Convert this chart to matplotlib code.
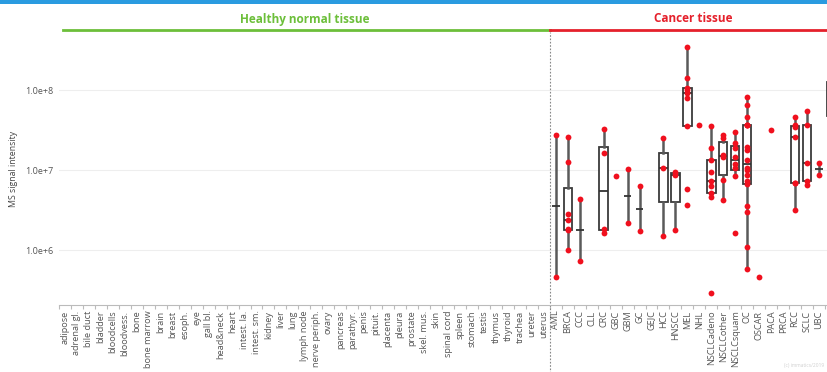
import matplotlib
matplotlib.use('Agg')
import matplotlib.pyplot as plt
import matplotlib.transforms as mtransforms
from matplotlib import cbook
from matplotlib.patches import Rectangle
from matplotlib.ticker import NullLocator
import numpy as np

plt.rcParams['font.family'] = ['Open Sans', 'DejaVu Sans']

# categories (x axis)
healthy = ["adipose", "adrenal gl.", "bile duct", "bladder", "bloodcells", "bloodvess.",
           "bone", "bone marrow", "brain", "breast", "esoph.", "eye", "gall bl.",
           "head&neck", "heart", "intest. la.", "intest. sm.", "kidney", "liver", "lung",
           "lymph node", "nerve periph.", "ovary", "pancreas", "parathyr.", "penis",
           "pituit.", "placenta", "pleura", "prostate", "skel. mus.", "skin",
           "spinal cord", "spleen", "stomach", "testis", "thymus", "thyroid", "trachea",
           "ureter", "uterus"]
cancer = ["AML", "BRCA", "CCC", "CLL", "CRC", "GBC", "GBM", "GC", "GEJC", "HCC", "HNSCC",
          "MEL", "NHL", "NSCLCadeno", "NSCLCother", "NSCLCsquam", "OC", "OSCAR", "PACA",
          "PRCA", "RCC", "SCLC", "UBC", "UCC"]

# MS signal intensity per cancer sample (healthy tissues: no detections)
aml = [2.7e7, 4.6e5]
brca = [2.6e7, 1.26e7, 2.8e6, 2.4e6, 1.82e6, 1.78e6, 1.0e6]
ccc = [4.4e6, 7.3e5]
cll = []
crc = [3.3e7, 1.65e7, 1.81e6, 1.61e6]
gbc = [8.5e6]
gbm = [1.02e7, 2.2e6]
gc = [6.3e6, 1.73e6]
gejc = []
hcc = [2.54e7, 1.07e7, 1.5e6]
hnscc = [9.5e6, 8.7e6, 1.78e6]
mel = [3.4e8, 1.41e8, 1.07e8, 1.0e8, 9.1e7, 7.9e7, 3.5e7, 5.8e6, 3.6e6]
nhl = [3.65e7]
nsclc_adeno = [3.5e7, 1.9e7, 1.32e7, 9.5e6, 7.2e6, 6.3e6, 5.2e6, 4.6e6, 2.9e5]
nsclc_other = [2.7e7, 2.5e7, 1.55e7, 1.45e7, 7.4e6, 4.2e6]
nsclc_squam = [3.0e7, 2.2e7, 1.9e7, 1.45e7, 1.2e7, 1.05e7, 8.3e6, 1.62e6]
oc = [8.1e7, 6.5e7, 4.6e7, 3.6e7, 3.6e7, 3.6e7, 1.95e7, 1.78e7, 1.35e7, 1.05e7, 1.0e7,
      8.7e6, 7.2e6, 6.6e6, 3.5e6, 3.0e6, 1.1e6, 5.8e5]
oscar = [4.6e5]
paca = [3.2e7]
prca = []
rcc = [4.6e7, 3.6e7, 3.4e7, 2.6e7, 6.9e6, 6.9e6, 3.2e6]
sclc = [5.5e7, 3.7e7, 1.23e7, 7.2e6, 6.5e6]
ubc = [1.23e7, 8.7e6]
ucc = [1.8e8, 1.26e8, 7.5e7, 4.7e7, 3.5e7]

cancer_values = [aml, brca, ccc, cll, crc, gbc, gbm, gc, gejc, hcc, hnscc, mel, nhl,
                 nsclc_adeno, nsclc_other, nsclc_squam, oc, oscar, paca, prca, rcc,
                 sclc, ubc, ucc]

ytick_vals = [1e6, 1e7, 1e8]
ytick_labels = ["1.0e+6", "1.0e+7", "1.0e+8"]

green = '#6cbf3a'
red = '#e5202b'
dot = '#f0101e'

fig = plt.figure(figsize=(8.28, 3.72), dpi=100)
ax = fig.add_axes([59 / 828, 67 / 372, 784 / 828, 273 / 372])

labels = healthy + cancer
n_h = len(healthy)

# boxes computed in log space
stats, pos = [], []
for i, vals in enumerate(cancer_values):
    x = n_h + i
    if len(vals) >= 3:
        s = cbook.boxplot_stats(np.log10(vals), whis=1.5)[0]
        for k in ('med', 'q1', 'q3', 'whislo', 'whishi'):
            s[k] = 10 ** s[k]
        s['fliers'] = []
        stats.append(s)
        pos.append(x)
    elif len(vals) == 2:
        ax.vlines(x, min(vals), max(vals), color='#5a5a5a', lw=1.8, zorder=2)
        ax.hlines(10 ** np.mean(np.log10(vals)), x - 0.32, x + 0.32,
                  color='#333333', lw=1.3, zorder=3)

ax.bxp(stats, positions=pos, widths=0.7, showcaps=False, showfliers=False,
       patch_artist=True,
       boxprops=dict(facecolor='white', edgecolor='#3a3a3a', linewidth=1.3),
       whiskerprops=dict(color='#5a5a5a', linewidth=1.8),
       medianprops=dict(color='#333333', linewidth=1.3),
       manage_ticks=False)

for i, vals in enumerate(cancer_values):
    if vals:
        ax.plot([n_h + i] * len(vals), vals, 'o', color=dot, ms=4.2, mew=0, zorder=5)

ax.set_yscale('log')
ax.set_ylim(10 ** 5.3125, 10 ** 8.725)
ax.set_xlim(-1 / 3, 65.0)
ax.set_yticks(ytick_vals)
ax.set_yticklabels(ytick_labels)
ax.yaxis.set_minor_locator(NullLocator())
ax.tick_params(axis='y', length=0, pad=4, labelsize=6.5, labelcolor='#555555')
ax.yaxis.grid(True, color='#eeeeee', lw=0.8)
ax.set_axisbelow(True)
ax.set_ylabel("MS signal intensity", fontsize=6.3, color='#444444', labelpad=5)

ax.set_xticks(range(len(labels)))
ax.set_xticklabels(labels, rotation=90, fontsize=6.6, color='#555555')
# last cancer column lies beyond the visible edge of the picture
ax.get_xticklabels()[-1].set_visible(False)
ax.set_xticks(np.arange(len(labels) + 1) - 0.5, minor=True)
ax.tick_params(axis='x', which='major', length=0, pad=4)
ax.tick_params(axis='x', which='minor', length=3, color='#bbbbbb', width=0.8)

for side in ('left', 'top', 'right'):
    ax.spines[side].set_visible(False)
ax.spines['bottom'].set_color('#bbbbbb')

# separator between healthy and cancer
sep = n_h - 0.5
tr_ax = mtransforms.blended_transform_factory(ax.transData, ax.transAxes)
ax.plot([sep, sep], [-0.25, 1.0], transform=tr_ax, color='#888888', lw=0.8,
        ls=(0, (1.5, 1.5)), clip_on=False)

# group headers
tr_fig = mtransforms.blended_transform_factory(ax.transData, fig.transFigure)
yline = 1 - 30 / 372
ax.plot([-0.15, sep], [yline, yline], color=green, lw=2, transform=tr_fig, clip_on=False)
ax.plot([sep, 66], [yline, yline], color=red, lw=2, transform=tr_fig, clip_on=False)
ax.text((n_h - 1) / 2, 1 - 19 / 372, "Healthy normal tissue", transform=tr_fig,
        ha='center', va='center', fontsize=8.5, fontweight='bold', color=green)
ax.text(n_h + (len(cancer) - 1) / 2, 1 - 19 / 372, "Cancer tissue", transform=tr_fig,
        ha='center', va='center', fontsize=8.5, fontweight='bold', color=red)

fig.add_artist(Rectangle((0, 1 - 4 / 372), 1, 4 / 372, transform=fig.transFigure,
                         color='#2a9be0', lw=0))
fig.text(0.995, 0.012, "(c) immatics/2019", ha='right', va='bottom', fontsize=3.5,
         color='#d0d0d0')

fig.savefig('out.png', dpi=100)
